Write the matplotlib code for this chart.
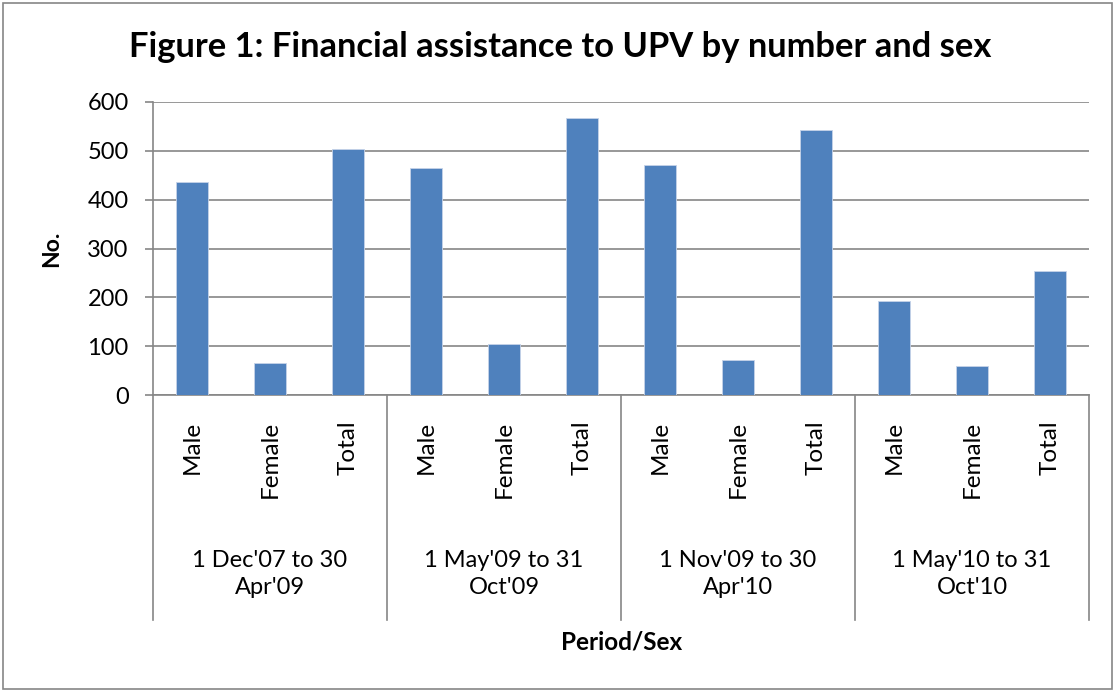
import matplotlib
matplotlib.use('Agg')
import matplotlib.pyplot as plt
from matplotlib.patches import Rectangle
import matplotlib.transforms as mtransforms

plt.rcParams['font.family'] = ['Lato', 'DejaVu Sans']

periods = ["1 Dec'07 to 30\nApr'09", "1 May'09 to 31\nOct'09",
           "1 Nov'09 to 30\nApr'10", "1 May'10 to 31\nOct'10"]
sexes = ['Male', 'Female', 'Total']
values = [437, 66, 503,
          464, 104, 568,
          472, 71, 543,
          192, 60, 254]

W, H = 1115, 690
fig = plt.figure(figsize=(W/100, H/100), dpi=100)

# plot area in pixels
x0, x1, ytop, ybot = 153, 1089, 102, 395
ax = fig.add_axes([x0/W, (H-ybot)/H, (x1-x0)/W, (ybot-ytop)/H])

gray = '#868686'
labels = sexes * len(periods)
xs = list(range(len(values)))
ax.bar(xs, values, width=0.4, color='#4F81BD', edgecolor='#C6D3E8',
       linewidth=0.6, zorder=3)

ax.set_xlim(-0.5, len(values) - 0.5)
ax.set_ylim(0, 600)
ax.set_yticks(range(0, 601, 100))
ax.yaxis.grid(True, color=gray, linewidth=1.2, zorder=0)
for s in ['top', 'right']:
    ax.spines[s].set_visible(False)
for s in ['left', 'bottom']:
    ax.spines[s].set_color(gray)
    ax.spines[s].set_linewidth(1.2)

ax.tick_params(axis='y', direction='out', length=5.5, width=1.2, color=gray,
               labelsize=17, pad=12)
ax.set_xticks(xs)
ax.set_xticklabels(labels, rotation=90, fontsize=17.5)
ax.tick_params(axis='x', length=0, pad=18.5)

# group separators and period labels under the axis
axh = ybot - ytop
trans = mtransforms.blended_transform_factory(ax.transData, ax.transAxes)
sep_bottom = (ybot - 620) / axh
for i in range(len(periods) + 1):
    ax.plot([i*3 - 0.5, i*3 - 0.5], [0, sep_bottom], color=gray, lw=1.2,
            transform=trans, clip_on=False)
for i, p in enumerate(periods):
    ax.text(i*3 + 1, (ybot - 574) / axh, p, transform=trans, ha='center',
            va='center', fontsize=17, linespacing=1.35)

fig.text(560/W, (H-57)/H, 'Figure 1: Financial assistance to UPV by number and sex',
         ha='center', va='baseline', fontsize=24.8, fontweight='bold')
fig.text(52/W, (H-249)/H, 'No.', rotation=90, ha='center', va='center',
         fontsize=16.5, fontweight='bold')
fig.text(622/W, (H-642)/H, 'Period/Sex', ha='center', va='center',
         fontsize=17.5, fontweight='bold')

fig.patches.append(Rectangle((3/W, 1/H), (1112-3)/W, (687-1)/H,
                             transform=fig.transFigure, fill=False,
                             edgecolor=gray, linewidth=1.2))

fig.savefig('out.png', dpi=100)
